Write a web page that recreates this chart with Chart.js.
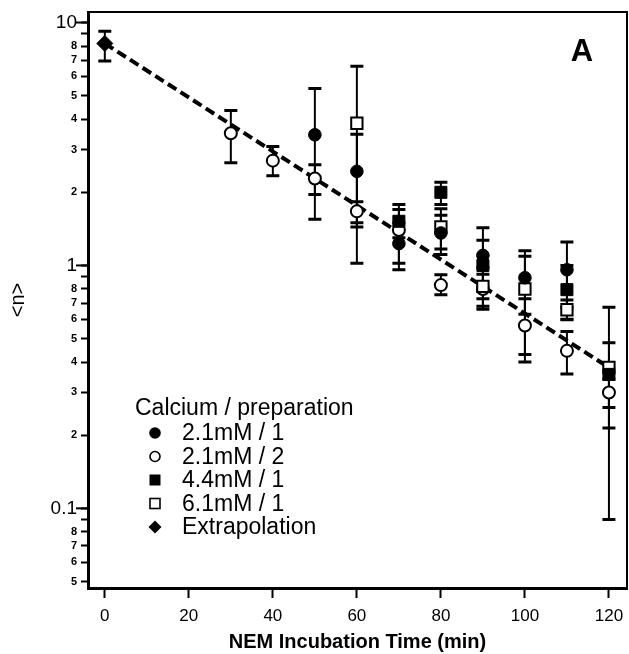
<!DOCTYPE html>
<html><head><meta charset="utf-8">
<script src="https://cdn.jsdelivr.net/npm/chart.js@4.4.1/dist/chart.umd.min.js"></script>
<style>html,body{margin:0;padding:0;background:#fff;}canvas{display:block;}</style>
</head><body>
<canvas id="c" width="629" height="654"></canvas>
<script>
const FONT = '"Liberation Sans", Arial, Helvetica, sans-serif';

const legendTitle = 'Calcium / preparation';
const seriesNames = ['2.1mM / 1', '2.1mM / 2', '4.4mM / 1', '6.1mM / 1', 'Extrapolation'];

// 2.1mM / 1 (filled circles)
const ca21p1Time = [50, 60, 70, 80, 90, 100, 110];
const ca21p1Mean = [3.45, 2.44, 1.23, 1.36, 1.10, 0.89, 0.96];
const ca21p1Low  = [1.55, 1.44, 0.96, 1.11, 0.79, 0.63, 0.67];
const ca21p1High = [5.35, 3.47, 1.50, 1.61, 1.43, 1.15, 1.25];

// 2.1mM / 2 (open circles)
const ca21p2Time = [30, 40, 50, 60, 70, 80, 90, 100, 110, 120];
const ca21p2Mean = [3.50, 2.70, 2.28, 1.67, 1.40, 0.83, 0.80, 0.566, 0.445, 0.30];
const ca21p2Low  = [2.65, 2.34, 1.96, 1.50, 1.02, 0.757, 0.68, 0.40, 0.357, 0.26];
const ca21p2High = [4.34, 3.09, 2.60, 1.83, 1.78, 0.915, 0.92, 0.73, 0.535, 0.34];

// 4.4mM / 1 (filled squares)
const ca44p1Time = [70, 80, 90, 110, 120];
const ca44p1Mean = [1.52, 2.00, 1.00, 0.795, 0.356];
const ca44p1Low  = [1.30, 1.78, 0.73, 0.60, 0.214];
const ca44p1High = [1.70, 2.20, 1.27, 1.00, 0.48];

// 6.1mM / 1 (open squares)
const ca61p1Time = [60, 80, 90, 100, 110, 120];
const ca61p1Mean = [3.85, 1.44, 0.82, 0.80, 0.657, 0.38];
const ca61p1Low  = [1.02, 1.17, 0.66, 0.43, 0.598, 0.09];
const ca61p1High = [6.60, 1.71, 0.98, 1.09, 0.72, 0.672];

// Extrapolation (diamond)
const extTime = [0];
const extMean = [8.2];
const extLow  = [6.95];
const extHigh = [9.2];

// Fitted exponential (dashed line)
const fitTime  = [0, 120];
const fitValue = [8.2, 0.38];

// Axis ticks
const xTickValues = [0, 20, 40, 60, 80, 100, 120];
const yTickValues = [0.05, 0.06, 0.07, 0.08, 0.09, 0.1, 0.2, 0.3, 0.4, 0.5, 0.6, 0.7, 0.8, 0.9,
                     1, 2, 3, 4, 5, 6, 7, 8, 9, 10];
const yMajorValues = [0.1, 1, 10];

function pts(t, v) { return t.map((x, i) => ({x: x, y: v[i]})); }
function isMajor(v) { return yMajorValues.some(m => Math.abs(m - v) / m < 1e-6); }
function mantissa(v) { const e = Math.floor(Math.log10(v) + 1e-9); return Math.round(v / Math.pow(10, e)); }

const errorBars = {
  id: 'errorBars',
  beforeDatasetsDraw(chart) {
    const {ctx, scales: {x, y}} = chart;
    ctx.save();
    ctx.strokeStyle = '#000';
    chart.data.datasets.forEach(ds => {
      if (!ds.errLow) return;
      ds.data.forEach((p, j) => {
        const px = x.getPixelForValue(p.x);
        const yl = y.getPixelForValue(ds.errLow[j]);
        const yh = y.getPixelForValue(ds.errHigh[j]);
        ctx.lineWidth = 2;
        ctx.beginPath(); ctx.moveTo(px, yl); ctx.lineTo(px, yh); ctx.stroke();
        ctx.lineWidth = 3;
        ctx.beginPath();
        ctx.moveTo(px - 6.5, yl); ctx.lineTo(px + 6.5, yl);
        ctx.moveTo(px - 6.5, yh); ctx.lineTo(px + 6.5, yh);
        ctx.stroke();
      });
    });
    ctx.restore();
  }
};

function drawMarker(ctx, style, x, y) {
  ctx.save();
  ctx.fillStyle = '#000'; ctx.strokeStyle = '#000';
  if (style === 'fcircle') { ctx.beginPath(); ctx.arc(x, y, 5.8, 0, Math.PI * 2); ctx.fill(); }
  else if (style === 'ocircle') { ctx.lineWidth = 1.6; ctx.beginPath(); ctx.arc(x, y, 5, 0, Math.PI * 2); ctx.stroke(); }
  else if (style === 'fsquare') { ctx.fillRect(x - 5.5, y - 5.5, 11, 11); }
  else if (style === 'osquare') { ctx.lineWidth = 1.6; ctx.strokeRect(x - 5, y - 5, 10, 10); }
  else if (style === 'diamond') { ctx.beginPath(); ctx.moveTo(x, y - 6.5); ctx.lineTo(x + 6.5, y); ctx.lineTo(x, y + 6.5); ctx.lineTo(x - 6.5, y); ctx.closePath(); ctx.fill(); }
  ctx.restore();
}

const decorations = {
  id: 'decorations',
  afterDraw(chart) {
    const {ctx, chartArea: a, scales: {y}} = chart;
    ctx.save();
    ctx.strokeStyle = '#000';
    ctx.lineWidth = 2;
    ctx.beginPath();
    ctx.moveTo(a.left, a.top); ctx.lineTo(a.right, a.top); ctx.lineTo(a.right, a.bottom);
    ctx.stroke();
    yMajorValues.forEach(v => {
      const py = y.getPixelForValue(v);
      ctx.beginPath(); ctx.moveTo(a.left - 12, py); ctx.lineTo(a.left, py); ctx.stroke();
    });
    ctx.fillStyle = '#000';
    ctx.font = 'bold 31px ' + FONT;
    ctx.textAlign = 'center'; ctx.textBaseline = 'middle';
    ctx.fillText('A', 582, 52);
    ctx.font = '23px ' + FONT;
    ctx.textAlign = 'left';
    ctx.fillText(legendTitle, 135, 409);
    const styles = ['fcircle', 'ocircle', 'fsquare', 'osquare', 'diamond'];
    seriesNames.forEach((name, i) => {
      const yy = 433 + i * 23.5;
      drawMarker(ctx, styles[i], 155, yy);
      ctx.fillText(name, 182, yy + 1);
    });
    ctx.restore();
  }
};

const common = {showLine: false, borderColor: '#000', order: 1};

new Chart(document.getElementById('c'), {
  type: 'scatter',
  data: {
    datasets: [
      {type: 'line', label: 'fit', data: pts(fitTime, fitValue), showLine: true, borderColor: '#000',
       borderWidth: 4, borderDash: [10, 5], pointRadius: 0, fill: false, order: 10, tension: 0},
      Object.assign({label: seriesNames[0], data: pts(ca21p1Time, ca21p1Mean), errLow: ca21p1Low, errHigh: ca21p1High,
       pointStyle: 'circle', pointRadius: 6.3, backgroundColor: '#000', borderWidth: 1}, common),
      Object.assign({label: seriesNames[2], data: pts(ca44p1Time, ca44p1Mean), errLow: ca44p1Low, errHigh: ca44p1High,
       pointStyle: 'rect', pointRadius: 8.5, backgroundColor: '#000', borderWidth: 1}, common),
      Object.assign({label: seriesNames[3], data: pts(ca61p1Time, ca61p1Mean), errLow: ca61p1Low, errHigh: ca61p1High,
       pointStyle: 'rect', pointRadius: 8, backgroundColor: '#fff', borderWidth: 2}, common),
      Object.assign({label: seriesNames[1], data: pts(ca21p2Time, ca21p2Mean), errLow: ca21p2Low, errHigh: ca21p2High,
       pointStyle: 'circle', pointRadius: 6, backgroundColor: '#fff', borderWidth: 2}, common),
      Object.assign({label: seriesNames[4], data: pts(extTime, extMean), errLow: extLow, errHigh: extHigh,
       pointStyle: 'rectRot', pointRadius: 8, backgroundColor: '#000', borderWidth: 1}, common)
    ]
  },
  options: {
    responsive: false,
    animation: false,
    layout: {autoPadding: false, padding: {top: 12, right: 2, left: 0, bottom: 0}},
    plugins: {legend: {display: false}, tooltip: {enabled: false}},
    scales: {
      x: {
        type: 'linear', min: -4, max: 124.3,
        afterBuildTicks(s) { s.ticks = xTickValues.map(v => ({value: v})); },
        afterFit(s) { s.height = 66; s.paddingLeft = 0; s.paddingRight = 0; },
        border: {display: true, color: '#000', width: 3},
        grid: {drawOnChartArea: false, drawTicks: true, tickLength: 10, tickWidth: 2, tickColor: '#000'},
        ticks: {color: '#000', font: {family: FONT, size: 17}, padding: 8, maxRotation: 0, autoSkip: false},
        title: {display: true, text: 'NEM Incubation Time (min)', color: '#000',
                font: {family: FONT, size: 20, weight: 'bold'}, padding: {top: 0, bottom: 0}}
      },
      y: {
        type: 'logarithmic', min: 0.047, max: 11.05,
        afterBuildTicks(s) { s.ticks = yTickValues.map(v => ({value: v})); },
        afterFit(s) { s.width = 88; s.paddingTop = 0; s.paddingBottom = 0; },
        border: {display: true, color: '#000', width: 3},
        grid: {drawOnChartArea: false, drawTicks: true, tickLength: 7, tickWidth: 2, tickColor: '#000'},
        ticks: {
          color: '#000', padding: 4, autoSkip: false,
          callback(v) {
            if (isMajor(v)) return String(v);
            const m = mantissa(v);
            return m === 9 ? '' : String(m);
          },
          font(c) {
            const v = c.tick ? c.tick.value : 1;
            return isMajor(v) ? {family: FONT, size: 19} : {family: FONT, size: 11, weight: 'bold'};
          }
        },
        title: {display: true, text: '<n>', color: '#000', font: {family: FONT, size: 20}, padding: {top: 6, bottom: 0}}
      }
    }
  },
  plugins: [errorBars, decorations]
});
</script>
</body></html>
